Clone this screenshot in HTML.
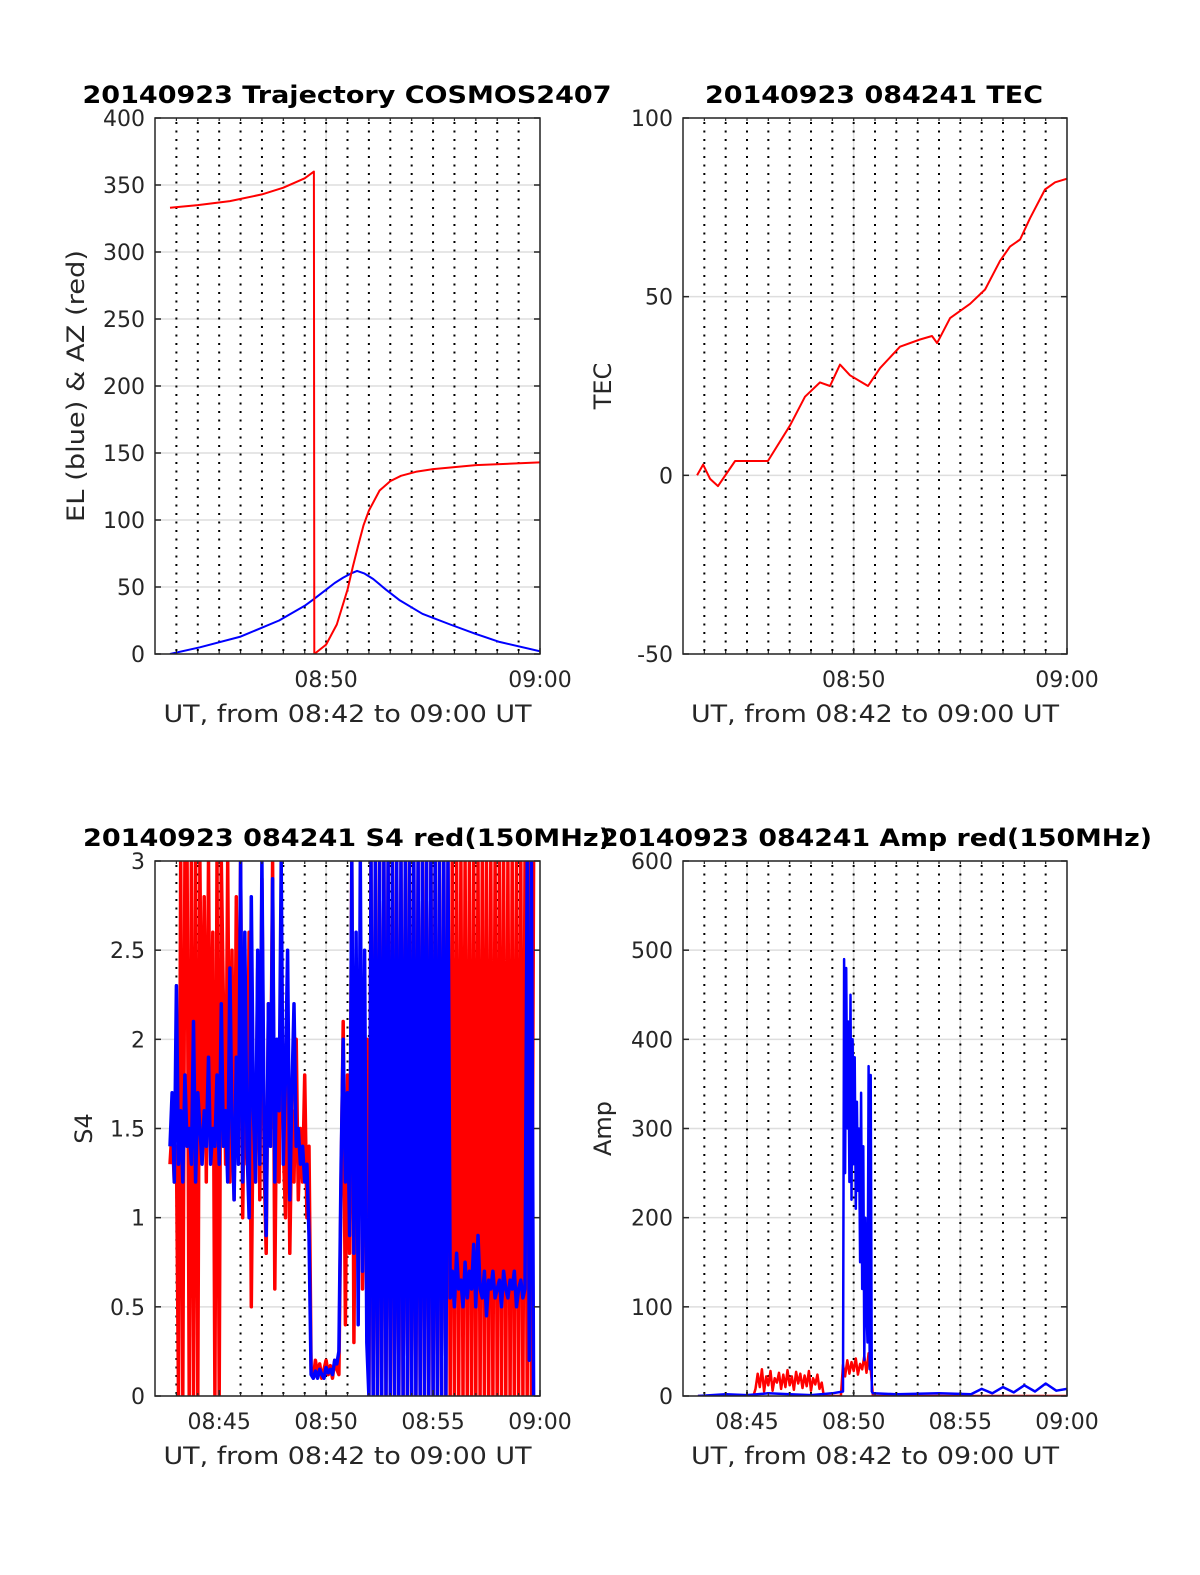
<!DOCTYPE html>
<html><head><meta charset="utf-8"><style>
html,body{margin:0;padding:0;background:#fff;}
svg{display:block;}
</style></head><body>
<svg id="fig" xmlns="http://www.w3.org/2000/svg" width="1200" height="1575" viewBox="0 0 1200 1575" font-family="'DejaVu Sans','Liberation Sans',sans-serif"></svg>
<script>
// ---- Trajectory data (minutes after 08:42) ----
const elT = [0.7,2.1,4.0,5.8,7.0,7.43,8.0,8.4,8.8,9.15,9.45,9.8,10.2,10.8,11.45,12.5,13.8,15.0,16.1,18];
const elV = [0,5,13,25,36,41,48,53,57,60,62,60,56,48,40,30,22,15,9,2];
const azT = [0.7,2,3.5,5,6,7,7.43,7.45,8.0,8.5,9.0,9.25,9.5,9.75,10.0,10.5,11.0,11.5,12.2,13,15,18];
const azV = [333,335,338,343,348,355,360,0,7,22,48,65,81,96,107,122,129,133,136,138,141,143];
// ---- TEC ----
const tecT = [0.66,0.94,1.27,1.64,2.44,3.14,3.98,5.02,5.72,6.42,6.89,7.36,7.83,8.67,9.24,10.17,11.11,11.67,11.91,12.52,13.46,14.16,14.86,15.33,15.8,16.27,16.97,17.44,18];
const tecV = [0,3,-1,-3,4,4,4,14,22,26,25,31,28,25,30,36,38,39,37,44,48,52,60,64,66,72,80,82,83];
// ---- S4 (start 0.7 min, step 0.1 min) ----
const s4Start = 0.7, s4Step = 0.1;
const s4Red = [1.3,1.5,1.2,1.4,
0,3,0,3,3,0,3,0,3,0,3,
1.5,2.8,1.2,3,1.4,2.6,
0,3,0,3,
2.2,1.3,3,1.2,2.5,1.1,2.8,1.4,3,1.0,2.0,1.3,2.6,0.5,1.8,1.2,
2.4,1.1,2.9,1.3,0.8,2.2,1.5,3,0.6,1.9,1.2,2.7,1.4,1.0,2.2,0.8,1.6,1.2,2.0,1.1,1.5,
1.2,1.8,1.0,1.4,
0.15,0.1,0.2,0.12,0.18,0.1,0.15,0.2,0.12,0.17,0.1,0.2,0.15,0.12,
1.2,2.1,0.4,1.8,0.8,3,0.3,1.9,1.0,2.5,0.6,1.5,2.0,
0,3,0,3,0,3,0,3,0,3,0,3,0,3,0,3,0,3,0,3,0,3,0,3,0,3,0,3,0,3,0,3,0,3,0,3,0,3,0,3,
0,3,0,3,0,3,0,3,0,3,0,3,0,3,0,3,0,3,0,3,0,3,0,3,0,3,0,3,0,3,0,3,0,3,0,3,0,3];
const s4Blue = [1.4,1.7,1.2,2.3,1.3,1.6,1.2,1.8,1.4,1.5,1.3,2.1,1.2,1.7,1.5,1.3,1.6,1.4,1.9,1.3,1.5,
1.4,1.8,1.3,2.2,1.4,1.6,1.2,2.4,1.5,1.1,1.9,1.3,3,1.2,2.6,1.4,1.0,2.8,1.6,1.2,
2.5,1.3,3,1.5,0.9,2.2,1.4,2.9,1.2,2.0,1.6,3,1.3,1.8,2.5,1.1,1.7,2.2,1.4,1.5,1.3,
1.4,1.2,1.3,0.9,
0.12,0.1,0.14,0.1,0.15,0.12,0.1,0.16,0.13,0.15,0.12,0.2,0.18,0.25,
1.3,2.0,1.2,1.7,0.9,3,0.8,2.6,0.4,3,0.7,2.5,0.3,
0,3,0,3,0,3,0,3,0,3,0,3,0,3,0,3,0,3,0,3,0,3,0,3,0,3,0,3,0,3,0,3,0,3,0,3,0,3,
0.55,0.7,0.5,0.8,0.6,0.65,0.5,0.75,0.55,0.7,0.6,0.85,0.5,0.9,0.6,0.55,0.7,0.45,0.65,0.6,
0.7,0.55,0.6,0.65,0.5,0.7,0.6,0.55,0.65,0.6,0.7,0.5,0.6,0.65,0.55,0.6,3,0.2,3,0];
// ---- Amp ----
const ampBlueT = [0.7,2,3,4,5,6,7,7.5,
7.55,7.6,7.65,7.7,7.75,7.8,7.85,7.9,7.95,8.0,8.05,8.1,8.15,8.2,8.25,8.3,8.35,8.4,8.45,8.5,8.55,8.6,8.65,8.7,8.75,8.8,8.85,8.9,
10,12,13.5,14,14.5,15,15.5,16,16.5,17,17.5,18];
const ampBlueV = [0,2,1,3,2,1,3,5,
490,250,480,300,420,240,450,220,400,260,380,210,330,230,300,150,340,120,280,40,200,100,60,370,30,360,5,3,
2,3,2,8,3,10,4,12,5,14,6,8];
const ampRedT = [0.7,3.3,3.4,3.5,3.6,3.7,3.8,3.9,4.0,4.1,4.2,4.3,4.4,4.5,4.6,4.7,4.8,4.9,5.0,5.1,5.2,5.3,5.4,5.5,5.6,5.7,5.8,5.9,6.0,6.1,6.2,6.3,6.4,6.5,6.6,
7.4,7.5,7.6,7.7,7.8,7.9,8.0,8.1,8.2,8.3,8.4,8.5,8.6,8.7,8.8,8.9,18];
const ampRedV = [0,0,8,25,10,30,5,22,12,28,6,20,15,26,8,24,10,29,12,22,7,27,14,25,9,23,11,28,6,20,13,24,8,15,0,
0,35,22,40,25,38,28,42,24,36,30,45,26,48,30,0,0];
const yTicksTraj = [0,50,100,150,200,250,300,350,400];
const yTicksTec = [-50,0,50,100];
const yTicksS4 = [0,0.5,1,1.5,2,2.5,3];
const yTicksAmp = [0,100,200,300,400,500,600];
const xTicksTop = [8,18], xLabelsTop = ['08:50','09:00'];
const xTicksBot = [3,8,13,18], xLabelsBot = ['08:45','08:50','08:55','09:00'];

const NS='http://www.w3.org/2000/svg';
const fig=document.getElementById('fig');
function mk(tag,parent,attrs){const e=document.createElementNS(NS,tag);for(const k in attrs)e.setAttribute(k,attrs[k]);parent.appendChild(e);return e;}

let clipId=0;
function panel(c){
  const g=mk('g',fig,{});
  
  
  const sx=t=>c.x0+t/18*(c.x1-c.x0);
  const sy=v=>c.y1-(v-c.ymin)/(c.ymax-c.ymin)*(c.y1-c.y0);
  c.yt.forEach(v=>{const l=mk('line',g,{x1:c.x0,x2:c.x1,y1:sy(v),y2:sy(v),stroke:'#dedede','stroke-width':1.5});
    
    });
  c.xt.forEach(t=>{const l=mk('line',g,{x1:sx(t),x2:sx(t),y1:c.y0,y2:c.y1,stroke:'#dedede','stroke-width':1.5});
    
    });
  for(let m=1;m<18;m++){const l=mk('line',g,{x1:sx(m),x2:sx(m),y1:c.y0+4,y2:c.y1,stroke:'#000','stroke-width':2,'stroke-dasharray':'2 6.5'});
    
    }
  const cid='clip'+(clipId++);
  const cp=mk('clipPath',g,{id:cid});mk('rect',cp,{x:c.x0,y:c.y0,width:c.x1-c.x0,height:c.y1-c.y0});
  const dg=mk('g',g,{'clip-path':'url(#'+cid+')'});
  c.series.forEach(s=>{
    let d='';
    s.v.forEach((v,i)=>{const t=s.t?s.t[i]:s.start+i*s.step;d+=(i?'L':'M')+sx(t).toFixed(1)+' '+sy(v).toFixed(1);});
    const p=mk('path',dg,{d:d,fill:'none',stroke:s.color,'stroke-width':s.w||2,'stroke-linejoin':'round'});
    
    
  });
  const b=mk('rect',g,{x:c.x0,y:c.y0,width:c.x1-c.x0,height:c.y1-c.y0,fill:'none',stroke:'#262626','stroke-width':1.5});
  
  
  c.yt.forEach((v,i)=>{
    mk('line',g,{x1:c.x0,x2:c.x0+6,y1:sy(v),y2:sy(v),stroke:'#262626','stroke-width':1.5});
    mk('line',g,{x1:c.x1,x2:c.x1-6,y1:sy(v),y2:sy(v),stroke:'#262626','stroke-width':1.5});
    const tx=mk('text',g,{x:c.x0-10,y:sy(v)+8,'text-anchor':'end','font-size':22,fill:'#262626'});
    tx.textContent=c.ylab?c.ylab[i]:String(v);
    
    
  });
  for(let m=1;m<18;m++){mk('line',g,{x1:sx(m),x2:sx(m),y1:c.y1,y2:c.y1-3,stroke:'#262626','stroke-width':1.2});mk('line',g,{x1:sx(m),x2:sx(m),y1:c.y0,y2:c.y0+3,stroke:'#262626','stroke-width':1.2});}
  c.xt.forEach((t,i)=>{
    mk('line',g,{x1:sx(t),x2:sx(t),y1:c.y1,y2:c.y1-6,stroke:'#262626','stroke-width':1.5});
    const tx=mk('text',g,{x:sx(t),y:c.y1+33,'text-anchor':'middle','font-size':22,fill:'#262626'});
    tx.textContent=c.xl[i];
    
    
  });
  const xl=mk('text',g,{x:(c.x0+c.x1)/2,y:c.y1+68,'text-anchor':'middle','font-size':24,fill:'#262626',textLength:368,lengthAdjust:'spacingAndGlyphs'});
  xl.textContent='UT, from 08:42 to 09:00 UT';
  
  
  const yl=mk('text',g,{x:0,y:0,'text-anchor':'middle','font-size':24,fill:'#262626',transform:'translate('+c.ylx+','+(c.y0+c.y1)/2+') rotate(-90)'});
  if(c.ylw){yl.setAttribute('textLength',c.ylw);yl.setAttribute('lengthAdjust','spacingAndGlyphs');}
  yl.textContent=c.ylabel;
  
  
  const ti=mk('text',g,{x:c.tx,y:c.y0-15,'text-anchor':'middle','font-size':24,'font-weight':'bold',fill:'#000',textLength:c.tw,lengthAdjust:'spacingAndGlyphs'});
  ti.textContent=c.title;
  
  
}

panel({name:'trajectory-panel',x0:155,x1:540,y0:118,y1:654,ymin:0,ymax:400,yt:yTicksTraj,xt:xTicksTop,xl:xLabelsTop,
  title:'20140923 Trajectory COSMOS2407',tx:347,tw:529,ylabel:'EL (blue) & AZ (red)',ylx:84,ylw:272,
  series:[{name:'elevation-line',t:elT,v:elV,color:'#0000ff'},{name:'azimuth-line',t:azT,v:azV,color:'#ff0000'}]});
panel({name:'tec-panel',x0:683,x1:1067,y0:118,y1:654,ymin:-50,ymax:100,yt:yTicksTec,xt:xTicksTop,xl:xLabelsTop,
  title:'20140923 084241 TEC',tx:874,tw:338,ylabel:'TEC',ylx:611,
  series:[{name:'tec-line',t:tecT,v:tecV,color:'#ff0000'}]});
panel({name:'s4-panel',x0:155,x1:540,y0:861,y1:1396,ymin:0,ymax:3,yt:yTicksS4,ylab:['0','0.5','1','1.5','2','2.5','3'],xt:xTicksBot,xl:xLabelsBot,
  title:'20140923 084241 S4 red(150MHz)',tx:347,tw:528,ylabel:'S4',ylx:92,
  series:[{name:'s4-red-line',start:s4Start,step:s4Step,v:s4Red,color:'#ff0000',w:3.5},{name:'s4-blue-line',start:s4Start,step:s4Step,v:s4Blue,color:'#0000ff',w:3.5}]});
panel({name:'amp-panel',x0:683,x1:1067,y0:861,y1:1396,ymin:0,ymax:600,yt:yTicksAmp,xt:xTicksBot,xl:xLabelsBot,
  title:'20140923 084241 Amp red(150MHz)',tx:876,tw:552,ylabel:'Amp',ylx:611,
  series:[{name:'amp-red-line',t:ampRedT,v:ampRedV,color:'#ff0000',w:2.5},{name:'amp-blue-line',t:ampBlueT,v:ampBlueV,color:'#0000ff',w:2.5}]});
</script>
</body></html>
